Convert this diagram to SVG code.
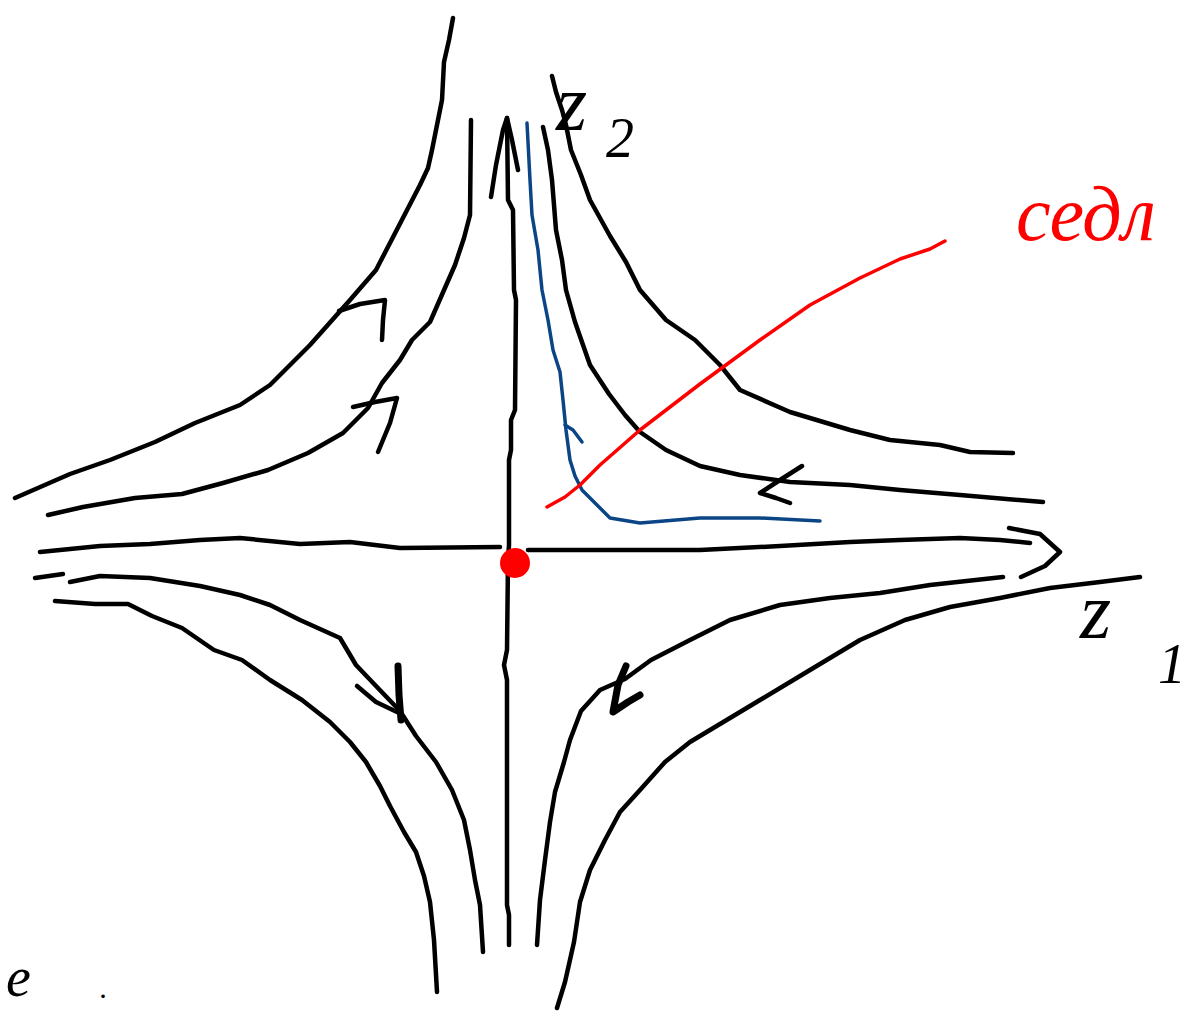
<svg xmlns="http://www.w3.org/2000/svg" width="1186" height="1013" viewBox="0 0 1186 1013">
<style>
.k{fill:none;stroke:#000;stroke-width:4.5;stroke-linecap:round;stroke-linejoin:round}
.kb{fill:none;stroke:#000;stroke-width:7;stroke-linecap:round;stroke-linejoin:round}
.b{fill:none;stroke:#0b4586;stroke-width:3.5;stroke-linecap:round;stroke-linejoin:round}
.r{fill:none;stroke:#ff0000;stroke-width:3.5;stroke-linecap:round;stroke-linejoin:round}
.t{font-family:"Liberation Serif",serif;font-style:italic}
</style>
<rect width="1186" height="1013" fill="#fff"/>
<g id="connectors">
<g id="axes">
<polyline class="k" points="507,118 508,200 513,210 514,290 516,300 515,410 511,420 511,450 509,460 509,545 508,560 507,650 504,665 507,680 507,905 509,915 509,945"/>
<polyline class="k" points="491,197 496,165 503,130 507,118 512,140 518,170"/>
<polyline class="k" points="40,552 100,546 150,544 200,540 240,538 300,544 350,542 400,548 500,547"/>
<polyline class="k" points="528,550 600,550 700,550 780,546 850,542 900,540 960,538 1000,540 1030,543"/>
<polyline class="k" points="1009,528 1040,534 1060,552 1045,566 1021,577"/>
</g>
<g id="ul-curves">
<polyline class="k" points="453,18 449,40 444,62 442,100 437,125 432,150 428,168 420,185 376,270 350,300 310,345 290,365 270,385 240,405 195,423 155,442 110,460 70,474 15,498"/>
<polyline class="k" points="471,120 470,215 464,238 455,265 430,322 412,340 400,360 382,383 368,408 343,433 308,453 268,470 223,483 182,494 135,498 83,507 48,515"/>
<polyline class="k" points="339,311 360,304 385,300 383,320 382,340"/>
<polyline class="k" points="353,407 375,402 397,398 390,423 378,452"/>
</g>
<g id="ur-curves">
<polyline class="k" points="552,76 556,92 562,110 566,125 571,150 581,175 590,200 610,236 626,262 640,290 666,320 695,340 720,365 740,390 790,412 850,430 890,440 940,445 970,452 1013,453"/>
<polyline class="k" points="543,127 548,150 552,180 556,230 562,260 566,290 575,322 590,365 609,394 625,415 640,432 666,450 700,466 740,475 790,482 850,485 900,490 960,495 1043,502"/>
<polyline class="k" points="802,466 780,480 760,493 776,498 790,503"/>
</g>
<g id="ll-curves">
<polyline class="k" points="35,578 63,574"/>
<polyline class="k" points="70,582 100,576 150,578 200,586 240,595 270,605 300,620 340,638 356,665 376,686 400,711 416,736 436,762 452,790 464,820 470,850 475,880 480,905 483,952"/>
<polyline class="k" points="55,601 95,604 128,604 152,616 182,628 214,650 242,660 270,680 302,700 330,722 350,742 366,762 380,786 390,806 404,832 416,852 424,876 430,902 434,940 437,992"/>
<polyline class="kb" points="398,666 399,695 401,720"/>
<polyline class="k" points="357,686 376,702 397,712"/>
</g>
<g id="lr-curves">
<polyline class="k" points="537,945 540,900 545,860 550,822 555,792 564,762 570,740 581,711 600,690 625,679 651,660 690,640 730,620 780,605 830,598 880,593 930,585 1003,577"/>
<polyline class="k" points="557,1008 565,982 574,942 580,902 590,870 605,840 620,812 640,790 665,762 690,742 720,724 760,700 810,670 860,640 905,620 950,607 1000,598 1050,588 1100,582 1140,577"/>
<polyline class="kb" points="626,666 618,685 613,712 628,702 640,695"/>
</g>
<g id="blue-trajectory">
<polyline class="b" points="527,123 530,180 532,215 538,250 542,290 548,320 553,350 560,372 563,400 566,430 570,460 575,476 582,490 597,505 610,518 640,523 700,518 760,518 820,521"/>
<polyline class="b" points="565,425 573,430 582,442"/>
</g>
<g id="red-separatrix">
<polyline class="r" points="547,507 565,497 580,485 600,465 640,430 700,384 760,340 810,305 860,278 900,259 930,249 945,241"/>
</g>
</g>
<g id="saddle-point">
<circle cx="515" cy="563" r="15" fill="#ff0000"/>
</g>
<g id="labels">
<text class="t" x="556" y="130" font-size="80">z</text>
<text class="t" x="606" y="157" font-size="56">2</text>
<text class="t" x="1080" y="638" font-size="80">z</text>
<text class="t" x="1158" y="683" font-size="56">1</text>
<text class="t" x="1016" y="240" font-size="78" fill="#ff0000">седл</text>
<text class="t" x="6" y="996" font-size="56">e</text>
<text class="t" x="100" y="998" font-size="30">.</text>
</g>
</svg>
